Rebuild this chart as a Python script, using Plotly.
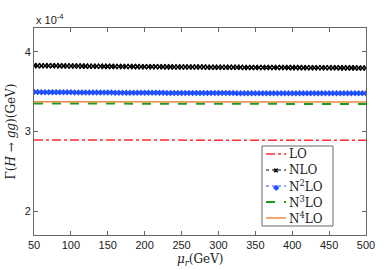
import plotly.graph_objects as go

# renormalization scale (GeV)
mu = list(range(50, 505, 5))
mu_c = [50, 100, 150, 200, 250, 300, 350, 400, 450, 500]

# Gamma(H->gg) in units of 1e-4 GeV
nlo = [3.828, 3.827, 3.827, 3.826, 3.826, 3.825, 3.825, 3.824, 3.824, 3.823,
       3.823, 3.822, 3.822, 3.821, 3.821, 3.820, 3.820, 3.819, 3.819, 3.818,
       3.818, 3.818, 3.817, 3.817, 3.816, 3.816, 3.816, 3.815, 3.815, 3.814,
       3.814, 3.814, 3.813, 3.813, 3.813, 3.812, 3.812, 3.812, 3.811, 3.811,
       3.811, 3.810, 3.810, 3.810, 3.809, 3.809, 3.809, 3.808, 3.808, 3.808,
       3.807, 3.807, 3.807, 3.807, 3.806, 3.806, 3.806, 3.805, 3.805, 3.805,
       3.805, 3.804, 3.804, 3.804, 3.804, 3.803, 3.803, 3.803, 3.803, 3.802,
       3.802, 3.802, 3.802, 3.801, 3.801, 3.801, 3.801, 3.801, 3.800, 3.800,
       3.800, 3.800, 3.800, 3.799, 3.799, 3.799, 3.799, 3.799, 3.798, 3.798,
       3.798]
n2lo = [3.495, 3.495, 3.494, 3.494, 3.494, 3.493, 3.493, 3.493, 3.492, 3.492,
        3.492, 3.491, 3.491, 3.491, 3.490, 3.490, 3.490, 3.490, 3.489, 3.489,
        3.489, 3.489, 3.488, 3.488, 3.488, 3.488, 3.487, 3.487, 3.487, 3.487,
        3.487, 3.486, 3.486, 3.486, 3.486, 3.486, 3.485, 3.485, 3.485, 3.485,
        3.485, 3.485, 3.484, 3.484, 3.484, 3.484, 3.484, 3.484, 3.483, 3.483,
        3.483, 3.483, 3.483, 3.483, 3.483, 3.482, 3.482, 3.482, 3.482, 3.482,
        3.482, 3.482, 3.482, 3.481, 3.481, 3.481, 3.481, 3.481, 3.481, 3.481,
        3.481, 3.481, 3.480, 3.480, 3.480, 3.480, 3.480, 3.480, 3.480, 3.480,
        3.480, 3.480, 3.480, 3.479, 3.479, 3.479, 3.479, 3.479, 3.479, 3.479,
        3.479]
lo = [2.893, 2.892, 2.892, 2.891, 2.891, 2.891, 2.890, 2.890, 2.890, 2.890]
n3lo = [3.352, 3.350, 3.349, 3.348, 3.348, 3.347, 3.347, 3.346, 3.346, 3.346]
n4lo = [3.375, 3.374, 3.373, 3.373, 3.372, 3.372, 3.372, 3.371, 3.371, 3.371]

series_names = ["LO", "NLO", "N<sup>2</sup>LO", "N<sup>3</sup>LO", "N<sup>4</sup>LO"]
y_ticks = [2, 3, 4]
x_ticks = [50, 100, 150, 200, 250, 300, 350, 400, 450, 500]

SERIF = "DejaVu Serif, Liberation Serif"
SANS = "Liberation Sans, Arial"

styles = [
    dict(color="#ff2a2a", width=1.5, dash="dashdot", marker=None),
    dict(color="black", width=1, dash="dot", marker="x"),
    dict(color="#2050ff", width=1, dash="dot", marker="diamond"),
    dict(color="#1a9e1a", width=2, dash="dash", marker=None),
    dict(color="#ec8a45", width=1.5, dash="solid", marker=None),
]

fig = go.Figure()
fig.add_trace(go.Scatter(x=mu_c, y=lo, name=series_names[0], mode="lines",
                         line=dict(color=styles[0]["color"], width=1.5, dash="dashdot")))
fig.add_trace(go.Scatter(x=mu, y=nlo, name=series_names[1], mode="lines+markers",
                         line=dict(color="black", width=1, dash="dot"),
                         marker=dict(symbol="x-thin-open", size=5, color="black",
                                     line=dict(width=1.5, color="black"))))
fig.add_trace(go.Scatter(x=mu, y=n2lo, name=series_names[2], mode="lines+markers",
                         line=dict(color=styles[2]["color"], width=1, dash="dot"),
                         marker=dict(symbol="diamond", size=5, color=styles[2]["color"])))
fig.add_trace(go.Scatter(x=mu_c, y=n3lo, name=series_names[3], mode="lines",
                         line=dict(color=styles[3]["color"], width=2, dash="dash")))
fig.add_trace(go.Scatter(x=mu_c, y=n4lo, name=series_names[4], mode="lines",
                         line=dict(color=styles[4]["color"], width=1.5)))

axis_common = dict(showline=True, linecolor="#666", linewidth=1, mirror="ticks",
                   ticks="inside", ticklen=4, tickcolor="#666", showgrid=False,
                   zeroline=False, tickfont=dict(family=SANS, size=11, color="#222"))

fig.update_xaxes(range=[50, 500], tickvals=x_ticks, ticklabelstandoff=0, **axis_common)
fig.update_yaxes(range=[1.7, 4.3], tickvals=y_ticks, **axis_common,
                 title=dict(text="Γ(<i>H</i> → <i>gg</i>)(GeV)", standoff=6,
                            font=dict(family=SERIF, size=12, color="#222")))

fig.add_annotation(text="<i>μ<sub>r</sub></i>(GeV)", xref="paper", yref="paper", x=0.5, y=0,
                   xanchor="center", yanchor="top", showarrow=False, yshift=-15,
                   font=dict(family=SERIF, size=12, color="#222"))
fig.add_annotation(text="x 10<sup>-4</sup>", xref="paper", yref="paper", x=0, y=1,
                   xanchor="left", yanchor="bottom", showarrow=False, yshift=0,
                   font=dict(family=SANS, size=11, color="#222"))

# ---- compact MATLAB-style legend box (paper coordinates) ----
L, R, T, B = 34, 24, 28, 35
W, H = 390, 270
pw, ph = W - L - R, H - T - B


def px(xp):
    return (xp - L) / pw


def py(yp):
    return (H - B - yp) / ph


box = dict(x0=262, x1=333, y0=146, y1=226)
fig.add_shape(type="rect", xref="paper", yref="paper",
              x0=px(box["x0"]), x1=px(box["x1"]), y0=py(box["y1"]), y1=py(box["y0"]),
              line=dict(color="#666", width=1), fillcolor="white", layer="above")
row_h = (box["y1"] - box["y0"]) / len(series_names)
for i, (name, st) in enumerate(zip(series_names, styles)):
    yc = box["y0"] + row_h * (i + 0.5)
    fig.add_shape(type="line", xref="paper", yref="paper",
                  x0=px(266), x1=px(286), y0=py(yc), y1=py(yc), layer="above",
                  line=dict(color=st["color"], width=st["width"], dash=st["dash"]))
    if st["marker"] == "x":
        fig.add_annotation(text="✖", xref="paper", yref="paper", x=px(276), y=py(yc),
                           xanchor="center", yanchor="middle", showarrow=False,
                           font=dict(size=7, color=st["color"]))
    elif st["marker"] == "diamond":
        fig.add_annotation(text="◆", xref="paper", yref="paper", x=px(276), y=py(yc),
                           xanchor="center", yanchor="middle", showarrow=False,
                           font=dict(size=8, color=st["color"]))
    fig.add_annotation(text=name, xref="paper", yref="paper", x=px(287), y=py(yc),
                       xanchor="left", yanchor="middle", showarrow=False,
                       font=dict(family=SERIF, size=12, color="#222"))

fig.update_layout(
    width=W, height=H,
    margin=dict(l=L, r=R, t=T, b=B, autoexpand=False),
    paper_bgcolor="white", plot_bgcolor="white",
    showlegend=False,
)

fig.write_html("out.html", config={"displayModeBar": False},
               post_script="document.body.style.margin='0';document.body.style.overflow='hidden';")
